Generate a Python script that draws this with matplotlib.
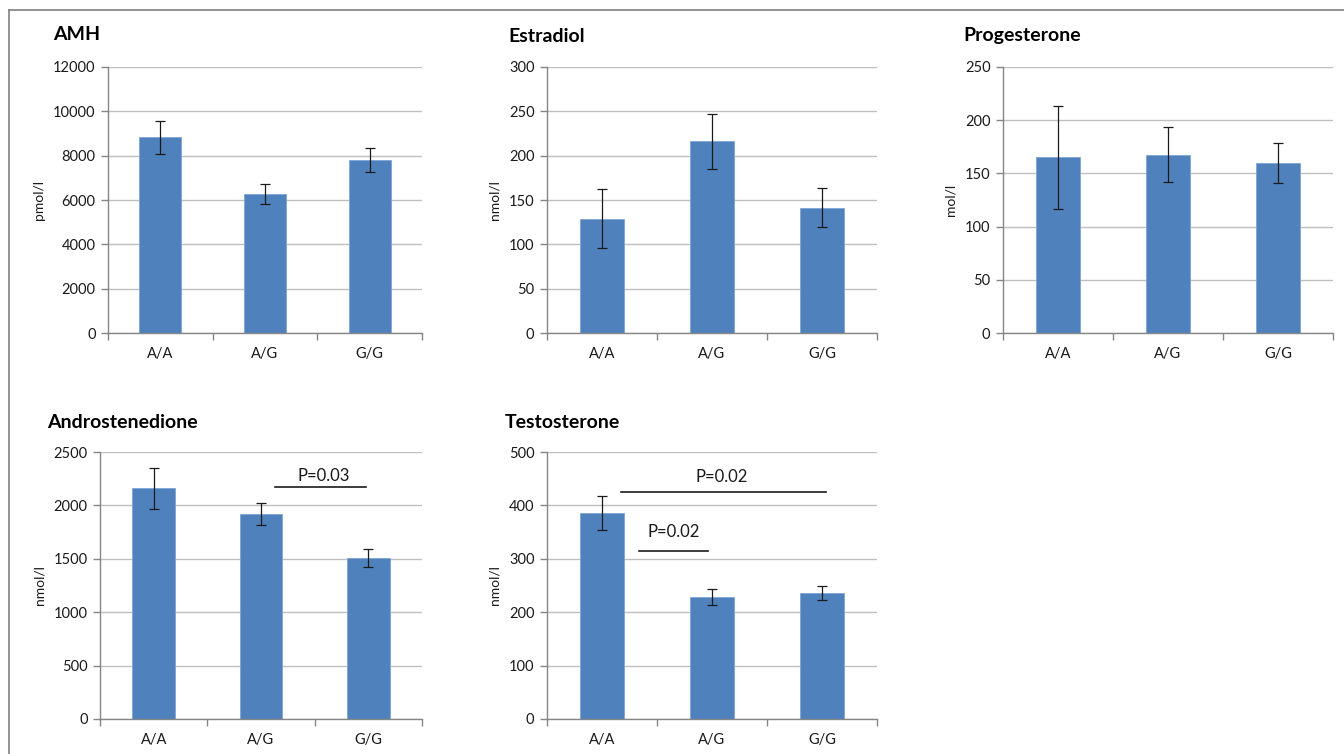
import matplotlib
matplotlib.use("Agg")
import matplotlib.pyplot as plt
from matplotlib.lines import Line2D

plt.rcParams["font.family"] = ["Lato", "DejaVu Sans"]

W, H = 1344, 754

genotypes = ["A/A", "A/G", "G/G"]

amh_mean = [8820, 6260, 7790]
amh_err = [730, 440, 540]

estradiol_mean = [129, 216.5, 141.5]
estradiol_err = [33, 31, 22]

progesterone_mean = [165, 167.5, 160]
progesterone_err = [48, 26, 19]

andro_mean = [2160, 1918, 1508]
andro_err = [190, 103, 85]

testo_mean = [385, 229, 236]
testo_err = [32, 15, 13]

# (title, unit, means, errs, ymax, ystep, axes box in px [left, top, right, bottom], title px)
panels = [
    ("AMH", "pmol/l", amh_mean, amh_err, 12000, 2000, (108, 67, 422, 333), (53, 35)),
    ("Estradiol", "nmol/l", estradiol_mean, estradiol_err, 300, 50, (547, 67, 877, 333), (508, 37)),
    ("Progesterone", "mol/l", progesterone_mean, progesterone_err, 250, 50, (1003, 67, 1333, 333), (963, 35)),
    ("Androstenedione", "nmol/l", andro_mean, andro_err, 2500, 500, (100, 452, 422, 719), (47, 423)),
    ("Testosterone", "nmol/l", testo_mean, testo_err, 500, 100, (547, 452, 877, 719), (505, 423)),
]

# significance brackets: panel index, x0, x1, y, label, label x, label y
sig_bars = [
    (3, 1.13, 1.98, 2172, "P=0.03", 1.58, 2205),
    (4, 0.17, 2.04, 426, "P=0.02", 1.09, 438),
    (4, 0.34, 0.96, 314, "P=0.02", 0.65, 336),
]

fig = plt.figure(figsize=(W / 100, H / 100), dpi=100)

axis_grey = "#868686"
grid_grey = "#bfbfbf"
bar_blue = "#4f81bd"

axes_list = []
for title, unit, means, errs, ymax, ystep, box, tpos in panels:
    l, t, r, b = box
    ax = fig.add_axes([l / W, 1 - b / H, (r - l) / W, (b - t) / H])
    x = range(len(genotypes))
    ax.bar(x, means, width=0.4, color=bar_blue, edgecolor="#7fa4d3", linewidth=0.6, zorder=2)
    ax.errorbar(x, means, yerr=errs, fmt="none", ecolor="#1a1a1a", elinewidth=0.9,
                capsize=3.5, capthick=0.9, zorder=3)
    ax.set_xlim(-0.5, 2.5)
    ax.set_ylim(0, ymax)
    ax.set_yticks(range(0, ymax + 1, ystep))
    ax.yaxis.grid(True, color=grid_grey, linewidth=1.0, zorder=0)
    ax.set_axisbelow(True)
    ax.set_xticks([0, 1, 2])
    ax.set_xticklabels(genotypes)
    ax.set_xticks([-0.5, 0.5, 1.5, 2.5], minor=True)
    ax.tick_params(axis="x", which="major", length=0, pad=10, labelsize=10.5, colors="#1a1a1a")
    ax.tick_params(axis="x", which="minor", length=5, color=axis_grey, width=1)
    ax.tick_params(axis="y", length=5, color=axis_grey, width=1, labelsize=10.5, pad=4,
                   labelcolor="#1a1a1a")
    for side in ("top", "right"):
        ax.spines[side].set_visible(False)
    for side in ("left", "bottom"):
        ax.spines[side].set_color(axis_grey)
        ax.spines[side].set_linewidth(1)
    ax.set_ylabel(unit, fontsize=10, color="#1a1a1a", labelpad=6)
    fig.text(tpos[0] / W, 1 - tpos[1] / H, title, fontsize=14, fontweight="bold",
             ha="left", va="center", color="black")
    axes_list.append(ax)

for idx, x0, x1, y, label, lx, ly in sig_bars:
    ax = axes_list[idx]
    ax.plot([x0, x1], [y, y], color="#1a1a1a", linewidth=1.2, zorder=4)
    ax.text(lx, ly, label, ha="center", va="bottom", fontsize=12, color="#1a1a1a")

# frame lines around the figure
fig.add_artist(Line2D([9 / W, 9 / W], [0, 1 - 10 / H], transform=fig.transFigure,
                      color="#808080", linewidth=1.2))
fig.add_artist(Line2D([9 / W, 1], [1 - 10 / H, 1 - 10 / H], transform=fig.transFigure,
                      color="#808080", linewidth=1.2))

fig.savefig("out.png", dpi=100)
